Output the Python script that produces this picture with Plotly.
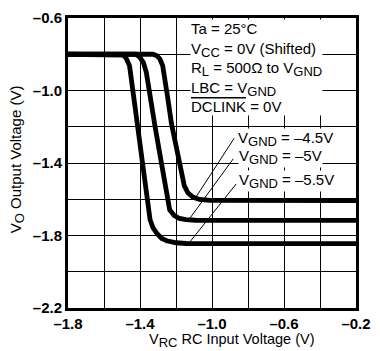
import plotly.graph_objects as go

# Curves: V_O vs V_RC for three V_GND values
x_m55 = [-1.80, -1.510, -1.494, -1.478, -1.458, -1.440, -1.413, -1.387, -1.363, -1.344,
         -1.328, -1.306, -1.279, -1.252, -1.199, -1.145, -0.20]
y_m55 = [-0.80, -0.800, -0.805, -0.820, -0.864, -0.998, -1.195, -1.400, -1.570, -1.713,
         -1.757, -1.789, -1.816, -1.829, -1.840, -1.844, -1.845]

x_m50 = [-1.80, -1.424, -1.403, -1.381, -1.365, -1.351, -1.317, -1.281, -1.252, -1.235,
         -1.209, -1.181, -1.145, -1.091, -0.20]
y_m50 = [-0.80, -0.800, -0.814, -0.846, -0.900, -0.998, -1.195, -1.400, -1.570, -1.659,
         -1.690, -1.706, -1.713, -1.716, -1.717]

x_m45 = [-1.80, -1.328, -1.306, -1.290, -1.274, -1.258, -1.247, -1.225, -1.199, -1.181,
         -1.167, -1.154, -1.134, -1.107, -1.070, -1.011, -0.20]
y_m45 = [-0.80, -0.800, -0.809, -0.825, -0.863, -0.954, -1.034, -1.184, -1.302, -1.400,
         -1.473, -1.525, -1.564, -1.588, -1.601, -1.606, -1.607]

x_ticks = [-1.8, -1.4, -1.0, -0.6, -0.2]
x_ticktext = ["\u20131.8", "\u20131.4", "\u20131.0", "\u20130.6", "\u20130.2"]
x_minor = [-1.6, -1.2, -0.8, -0.4]
y_ticks = [-2.2, -1.8, -1.4, -1.0, -0.6]
y_ticktext = ["\u20132.2", "\u20131.8", "\u20131.4", "\u20131.0", "\u20130.6"]
y_minor = [-2.0, -1.6, -1.2, -0.8]

SUB = "<sub><span style='font-size:13px'>{}</span></sub>"

# Curve labels and leader lines (label anchor -> curve point)
labels = ["V" + SUB.format("GND") + " = \u20134.5V",
          "V" + SUB.format("GND") + " = \u20135V",
          "V" + SUB.format("GND") + " = \u20135.5V"]
label_x = [-0.862, -0.858, -0.856]
label_y = [-1.268, -1.366, -1.498]
lead_x0 = [-0.877, -0.882, -0.866]
lead_y0 = [-1.264, -1.377, -1.516]
lead_x1 = [-1.091, -1.134, -1.129]
lead_y1 = [-1.591, -1.720, -1.843]

cond_lines = [
    "Ta = 25\u00b0C",
    "V" + SUB.format("CC") + " = 0V (Shifted)",
    "R" + SUB.format("L") + " = 500\u03a9 to V" + SUB.format("GND"),
    "LBC = V" + SUB.format("GND"),
    "<span style='text-decoration:overline'>DCLINK</span> = 0V",
]
cond_x = -1.122
cond_y_top = -0.603

fig = go.Figure()
for xs, ys in [(x_m55, y_m55), (x_m50, y_m50), (x_m45, y_m45)]:
    fig.add_trace(go.Scatter(x=xs, y=ys, mode="lines",
                             line=dict(color="black", width=4.8),
                             showlegend=False, hoverinfo="skip"))

for x0, y0, x1, y1 in zip(lead_x0, lead_y0, lead_x1, lead_y1):
    fig.add_trace(go.Scatter(x=[x0, x1], y=[y0, y1], mode="lines",
                             line=dict(color="black", width=1),
                             showlegend=False, hoverinfo="skip"))

font_txt = dict(family="Arial", size=15, color="black")
fig.add_annotation(x=cond_x, y=cond_y_top, xref="x", yref="y",
                   text="<br>".join(cond_lines), showarrow=False, align="left",
                   xanchor="left", yanchor="top", font=font_txt,
                   bgcolor="white", borderpad=0)
for t, xx, yy in zip(labels, label_x, label_y):
    fig.add_annotation(x=xx, y=yy, xref="x", yref="y", text=t, showarrow=False,
                       xanchor="left", yanchor="middle", font=font_txt,
                       bgcolor="white", borderpad=0)

# axis titles
fig.add_annotation(x=0.569, y=-0.112, xref="paper", yref="paper",
                   text="V" + SUB.format("RC") + " RC Input Voltage (V)",
                   showarrow=False, xanchor="center", yanchor="middle",
                   font=dict(family="Arial", size=14.5, color="black"))
fig.add_annotation(x=-0.178, y=0.512, xref="paper", yref="paper",
                   text="V" + SUB.format("O") + " Output Voltage (V)",
                   showarrow=False, textangle=-90, xanchor="center", yanchor="middle",
                   font=dict(family="Arial", size=15, color="black"))

axis_common = dict(showgrid=True, gridcolor="black", gridwidth=1.2, zeroline=False,
                   showline=True, linecolor="black", linewidth=3, mirror=True,
                   ticks="", ticklabeloverflow="allow",
                   tickfont=dict(family="Arial", size=15, color="black", weight="bold"))
fig.update_xaxes(range=[-1.8, -0.2], tickvals=x_ticks, ticktext=x_ticktext,
                 minor=dict(tickvals=x_minor, showgrid=True, gridcolor="black", gridwidth=1.2),
                 **axis_common)
fig.update_yaxes(range=[-2.2, -0.6], tickvals=y_ticks, ticktext=y_ticktext,
                 minor=dict(tickvals=y_minor, showgrid=True, gridcolor="black", gridwidth=1.2),
                 **axis_common)

fig.update_layout(width=380, height=351, margin=dict(l=68, r=14, t=9, b=43),
                  paper_bgcolor="white", plot_bgcolor="white", showlegend=False)

fig.write_html("out.html")
